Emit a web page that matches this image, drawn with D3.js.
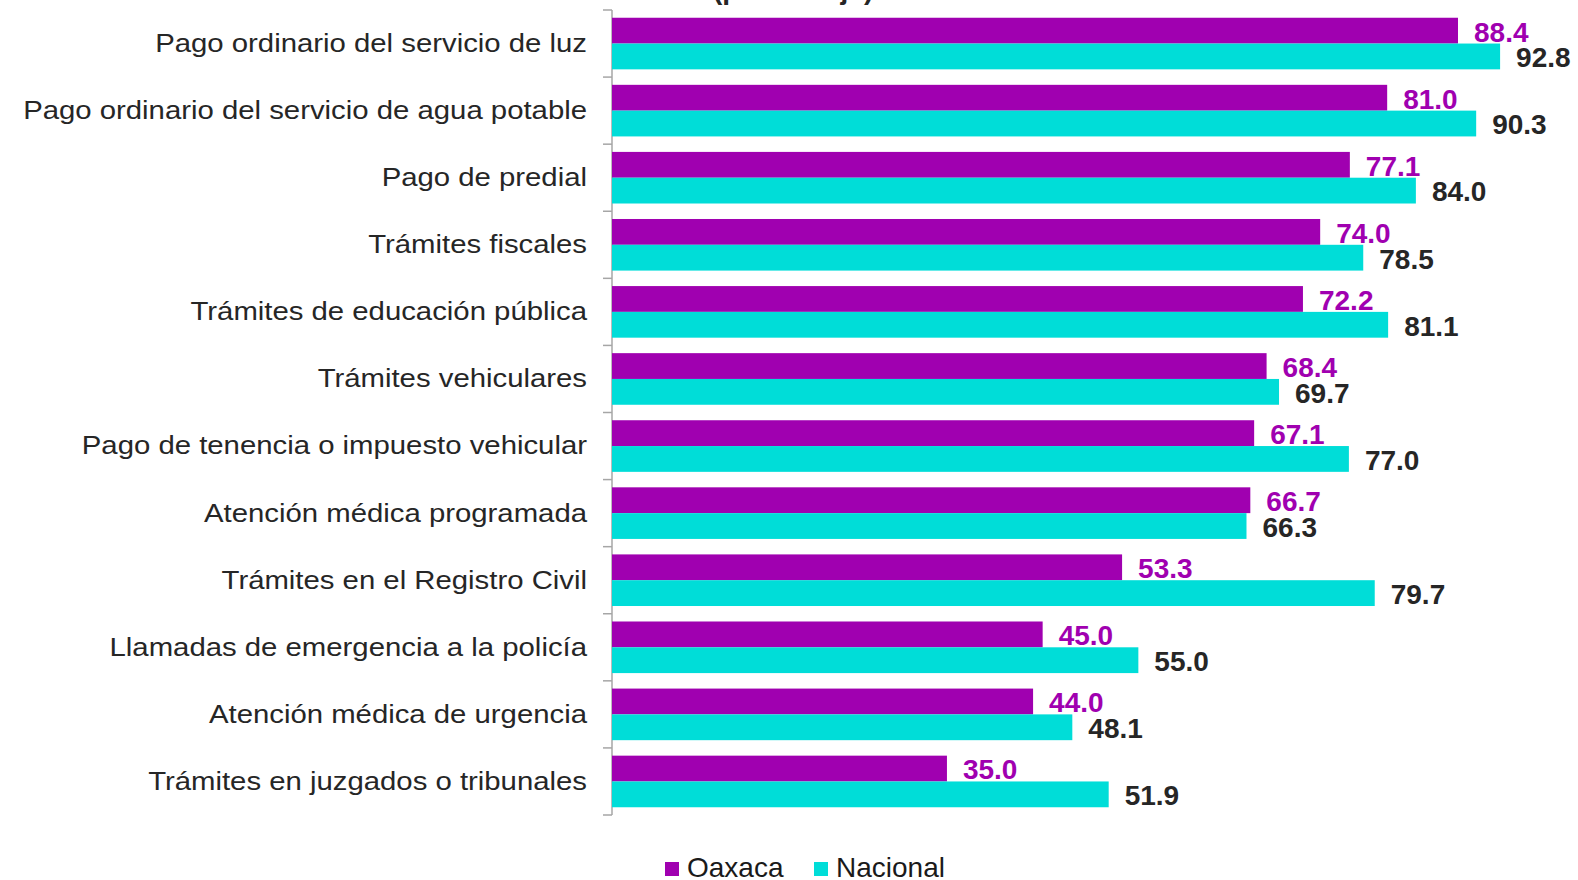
<!DOCTYPE html>
<html>
<head>
<meta charset="utf-8">
<script src="https://cdn.jsdelivr.net/npm/d3@7"></script>
<style>
  body { margin: 0; background: #fff; }
  text { font-family: "Liberation Sans", Arial, sans-serif; }
</style>
</head>
<body>
<svg id="render" width="1578" height="880"></svg>
<script>
const categories = [
    "Pago ordinario del servicio de luz",
    "Pago ordinario del servicio de agua potable",
    "Pago de predial",
    "Trámites fiscales",
    "Trámites de educación pública",
    "Trámites vehiculares",
    "Pago de tenencia o impuesto vehicular",
    "Atención médica programada",
    "Trámites en el Registro Civil",
    "Llamadas de emergencia a la policía",
    "Atención médica de urgencia",
    "Trámites en juzgados o tribunales"
];
const oaxaca = [88.4, 81.0, 77.1, 74.0, 72.2, 68.4, 67.1, 66.7, 53.3, 45.0, 44.0, 35.0];
const nacional = [92.8, 90.3, 84.0, 78.5, 81.1, 69.7, 77.0, 66.3, 79.7, 55.0, 48.1, 51.9];
const seriesNames = ["Oaxaca", "Nacional"];
const seriesColors = ["#A000B0", "#00DDD8"];
const labelColors = ["#A000B0", "#262626"];

const svg = d3.select("svg#render");

const x = d3.scaleLinear()
    .domain([0, 100])
    .range([612, 1569]);

const y0 = d3.scaleBand()
    .domain(categories)
    .range([10, 815])
    .padding(0);

const y1 = d3.scaleBand()
    .domain(seriesNames)
    .range([0, y0.bandwidth()])
    .paddingInner(0)
    .paddingOuter(0.3);

const rows = categories.map((c, i) => ({
    cat: c,
    vals: [oaxaca[i], nacional[i]]
}));

// cut-off title at the top
svg.append("text")
    .attr("x", 713)
    .attr("y", -1)
    .attr("font-size", 28)
    .attr("font-weight", "bold")
    .attr("fill", "#262626")
    .text("(porcentaje)");

// axis
const axis = svg.append("g");
axis.append("line")
    .attr("x1", x(0)).attr("x2", x(0))
    .attr("y1", y0.range()[0]).attr("y2", y0.range()[1])
    .attr("stroke", "#A6A6A6")
    .attr("stroke-width", 1.5);
const tickYs = categories.map(c => y0(c)).concat([y0.range()[1]]);
axis.selectAll("line.tick")
    .data(tickYs)
    .enter()
    .append("line")
    .attr("class", "tick")
    .attr("x1", x(0) - 9).attr("x2", x(0))
    .attr("y1", d => d).attr("y2", d => d)
    .attr("stroke", "#A6A6A6")
    .attr("stroke-width", 1.5);

// category labels (the source font is a bit wider than Arial)
svg.append("g")
    .selectAll("text")
    .data(categories)
    .enter()
    .append("text")
    .attr("transform", d => `translate(587, ${y0(d) + y0.bandwidth() / 2}) scale(1.15, 1)`)
    .attr("dy", "0.33em")
    .attr("text-anchor", "end")
    .attr("font-size", 25.5)
    .attr("fill", "#262626")
    .text(d => d);

// bars
const gs = svg.append("g")
    .selectAll("g")
    .data(rows)
    .enter()
    .append("g")
    .attr("transform", d => `translate(0, ${y0(d.cat)})`);

gs.selectAll("rect")
    .data(d => d.vals.map((v, j) => ({v, s: seriesNames[j], j})))
    .enter()
    .append("rect")
    .attr("x", x(0))
    .attr("y", d => y1(d.s))
    .attr("width", d => x(d.v) - x(0))
    .attr("height", y1.bandwidth())
    .attr("fill", d => seriesColors[d.j]);

gs.selectAll("text")
    .data(d => d.vals.map((v, j) => ({v, s: seriesNames[j], j})))
    .enter()
    .append("text")
    .attr("x", d => x(d.v) + 16)
    .attr("y", d => y1(d.s) + y1.bandwidth() - 2)
    .attr("font-size", 28)
    .attr("font-weight", "bold")
    .attr("fill", d => labelColors[d.j])
    .text(d => d3.format(".1f")(d.v));

// legend
const legendX = [665, 814];
const legend = svg.append("g")
    .selectAll("g")
    .data(seriesNames)
    .enter()
    .append("g")
    .attr("transform", (d, i) => `translate(${legendX[i]}, 862)`);
legend.append("rect")
    .attr("width", 14)
    .attr("height", 14)
    .attr("fill", (d, i) => seriesColors[i]);
legend.append("text")
    .attr("x", 22)
    .attr("y", 15)
    .attr("font-size", 28)
    .attr("fill", "#1a1a1a")
    .text(d => d);
</script>
</body>
</html>
